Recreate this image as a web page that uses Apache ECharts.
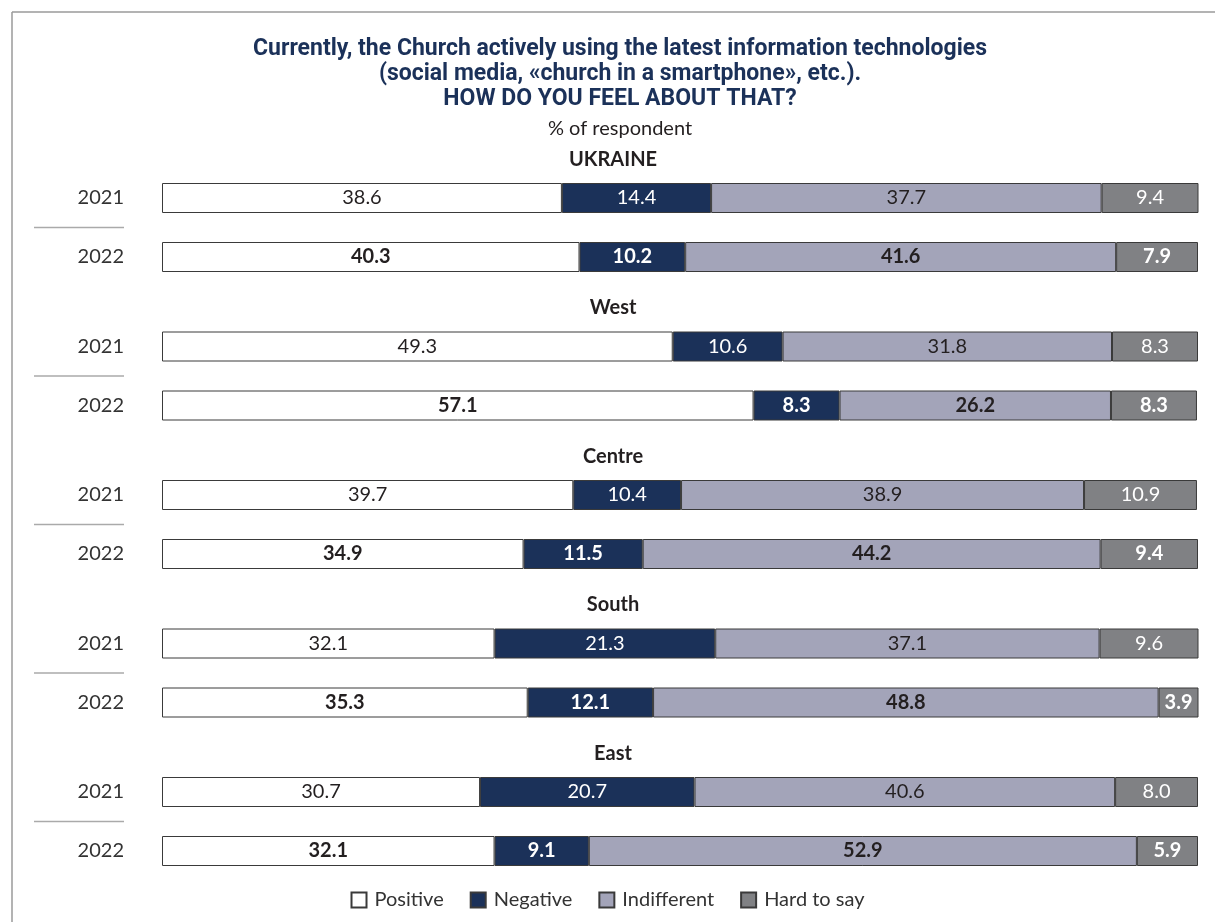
<!DOCTYPE html>
<html>
<head>
<meta charset="utf-8">
<script src="https://cdn.jsdelivr.net/npm/echarts@6/dist/echarts.min.js"></script>
<style>html,body{margin:0;padding:0;background:#fff}#chart{width:1215px;height:922px}</style>
</head>
<body>
<div id="chart"></div>
<script>
const years = ['2021', '2022'];
const regions = ['UKRAINE', 'West', 'Centre', 'South', 'East'];
const seriesNames = ['Positive', 'Negative', 'Indifferent', 'Hard to say'];
const positive = [[38.6, 40.3], [49.3, 57.1], [39.7, 34.9], [32.1, 35.3], [30.7, 32.1]];
const negative = [[14.4, 10.2], [10.6, 8.3], [10.4, 11.5], [21.3, 12.1], [20.7, 9.1]];
const indifferent = [[37.7, 41.6], [31.8, 26.2], [38.9, 44.2], [37.1, 48.8], [40.6, 52.9]];
const hardToSay = [[9.4, 7.9], [8.3, 8.3], [10.9, 9.4], [9.6, 3.9], [8.0, 5.9]];

const colors = ['#ffffff', '#1b3159', '#a3a4b9', '#808184'];
const labelColors = ['#231f20', '#ffffff', '#231f20', '#ffffff'];
const allValues = [positive, negative, indifferent, hardToSay];

const FONT = 'Lato, "Open Sans", sans-serif';
const gridTop0 = 168.5, gridPeriod = 148.5, gridH = 118;
const grids = [], xAxes = [], yAxes = [], series = [], graphics = [];

regions.forEach((reg, g) => {
  const top = gridTop0 + g * gridPeriod;
  grids.push({ left: 162, right: 17, top: top, height: gridH });
  xAxes.push({ gridIndex: g, type: 'value', min: 0, max: 100, show: false });
  yAxes.push({
    gridIndex: g, type: 'category', data: years, inverse: true,
    axisLine: { show: false }, axisTick: { show: false },
    axisLabel: { margin: 38, fontSize: 20, color: '#333', fontFamily: FONT }
  });
  graphics.push({
    type: 'text', x: 613, y: top - 9,
    style: { text: reg, fontSize: 20, fontWeight: 'bold', fill: '#231f20', fontFamily: FONT,
             textAlign: 'center', textVerticalAlign: 'middle' }
  });
  graphics.push({
    type: 'line', shape: { x1: 34, y1: top + gridH / 2, x2: 124, y2: top + gridH / 2 },
    style: { stroke: '#aaaaaa', lineWidth: 1.5 }
  });
  seriesNames.forEach((name, s) => {
    series.push({
      name: name, type: 'bar', stack: 'g' + g,
      xAxisIndex: g, yAxisIndex: g, barWidth: 30,
      itemStyle: { color: colors[s], borderColor: '#3a3a3a', borderWidth: 1 },
      label: {
        show: true, position: 'inside', color: labelColors[s], fontSize: 20, fontFamily: FONT,
        formatter: p => Number(p.value).toFixed(1)
      },
      emphasis: { disabled: true },
      data: allValues[s][g].map((v, i) => ({
        value: v,
        label: { fontWeight: i === 1 ? 'bold' : 'normal' }
      }))
    });
  });
});

graphics.push({ type: 'line', shape: { x1: 12, y1: 12, x2: 1215, y2: 12 }, style: { stroke: '#9a9a9a', lineWidth: 1.5 } });
graphics.push({ type: 'line', shape: { x1: 12, y1: 12, x2: 12, y2: 922 }, style: { stroke: '#9a9a9a', lineWidth: 1.5 } });

const chart = echarts.init(document.getElementById('chart'), null, { renderer: 'canvas' });
chart.setOption({
  animation: false,
  backgroundColor: '#ffffff',
  title: {
    text: 'Currently, the Church actively using the latest information technologies\n(social media, «church in a smartphone», etc.).\nHOW DO YOU FEEL ABOUT THAT?',
    subtext: '% of respondent',
    left: 615, top: 32, textAlign: 'center', itemGap: 6,
    textStyle: { fontSize: 23, fontWeight: 'bold', color: '#1b3159', lineHeight: 25, fontFamily: 'Roboto, sans-serif' },
    subtextStyle: { fontSize: 20, color: '#231f20', lineHeight: 22, fontFamily: FONT }
  },
  legend: {
    data: seriesNames, bottom: 7, left: 'center',
    itemWidth: 15, itemHeight: 15, itemGap: 26, icon: 'rect',
    textStyle: { fontSize: 20, color: '#333', fontFamily: FONT, padding: [0, 0, 0, 3] },
    selectedMode: false
  },
  grid: grids, xAxis: xAxes, yAxis: yAxes, series: series, graphic: graphics
});
</script>
</body>
</html>
